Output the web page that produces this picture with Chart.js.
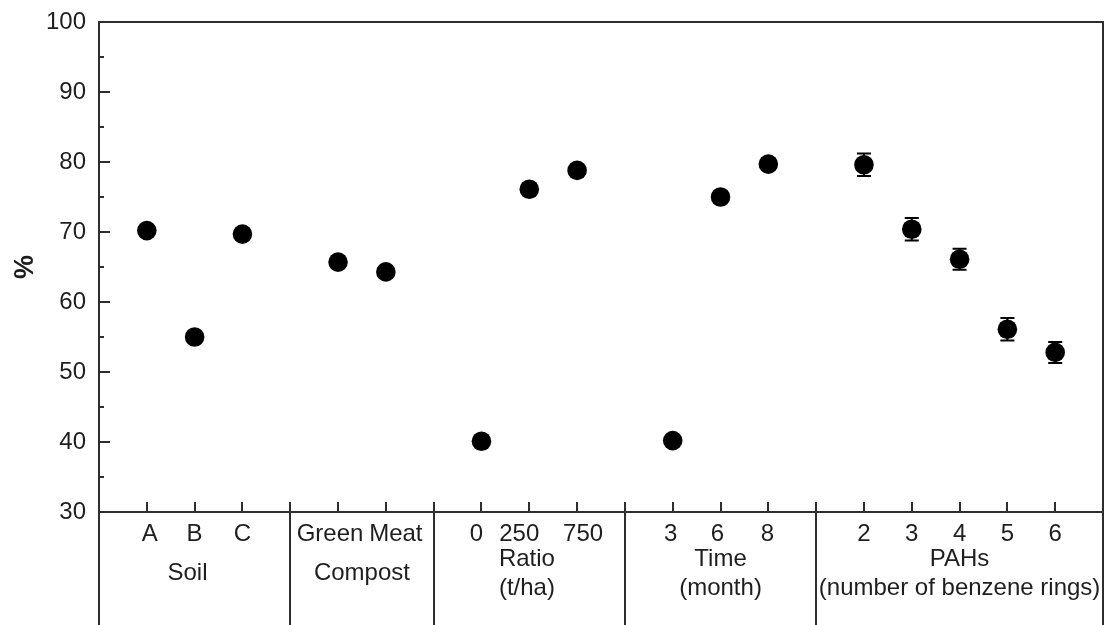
<!DOCTYPE html>
<html>
<head>
<meta charset="utf-8">
<script src="https://cdn.jsdelivr.net/npm/chart.js@4/dist/chart.umd.min.js"></script>
<style>
  html, body { margin: 0; padding: 0; background: #fff; }
  #wrap { width: 1115px; height: 625px; position: relative; }
</style>
</head>
<body>
<div id="wrap"><canvas id="chart"></canvas></div>
<script>
// Treatment levels along the x axis, grouped by factor
const categories = ['A', 'B', 'C', 'Green', 'Meat', '0', '250', '750', '3', '6', '8', '2', '3', '4', '5', '6'];
const positions  = [1, 2, 3, 5, 6, 8, 9, 10, 12, 13, 14, 16, 17, 18, 19, 20];
// Mean percentage and its standard error for each level
const values = [70.2, 55.0, 69.7, 65.7, 64.3, 40.1, 76.1, 78.8, 40.2, 75.0, 79.7, 79.6, 70.4, 66.1, 56.1, 52.8];
const errors = [0.6, 0.6, 0.6, 0.6, 0.6, 0.6, 0.8, 0.8, 0.6, 0.8, 0.8, 1.6, 1.6, 1.5, 1.6, 1.5];
// Factor groups: name lines, span boundaries and label centre on the x scale
const groupNames   = [['Soil'], ['Compost'], ['Ratio', '(t/ha)'], ['Time', '(month)'], ['PAHs', '(number of benzene rings)']];
const groupBounds  = [4, 7, 11, 15];
const groupCenters = [1.85, 5.5, 8.95, 13, 18];
const yTicks = [30, 40, 50, 60, 70, 80, 90, 100];

// Small horizontal nudges (px) so neighbouring level labels do not collide
const labelNudge = { 0: 3, 3: -8, 4: 10, 5: -5, 6: -10, 7: 6, 8: -2, 9: -3, 10: -1 };

const FONT = "'Liberation Sans', Arial, sans-serif";
const TEXT = '#1e1e1e';
const AXIS = '#2e2e2e';

const errorBars = {
  id: 'errorBars',
  beforeDatasetsDraw(chart) {
    const { ctx, scales: { x, y } } = chart;
    ctx.save();
    ctx.strokeStyle = '#000';
    ctx.lineWidth = 2;
    positions.forEach((p, i) => {
      const px = x.getPixelForValue(p);
      const top = y.getPixelForValue(values[i] + errors[i]);
      const bot = y.getPixelForValue(values[i] - errors[i]);
      ctx.beginPath();
      ctx.moveTo(px, top); ctx.lineTo(px, bot);
      ctx.moveTo(px - 7, top); ctx.lineTo(px + 7, top);
      ctx.moveTo(px - 7, bot); ctx.lineTo(px + 7, bot);
      ctx.stroke();
    });
    ctx.restore();
  }
};

const frame = {
  id: 'frame',
  afterDraw(chart) {
    const { ctx, chartArea: a, scales: { x, y } } = chart;
    const bottomEdge = chart.height;
    ctx.save();
    ctx.strokeStyle = AXIS;
    ctx.lineWidth = 2;
    ctx.lineCap = 'butt';
    ctx.beginPath();
    // box and extended side rails
    ctx.moveTo(a.left, a.top); ctx.lineTo(a.right, a.top);
    ctx.moveTo(a.left, a.top - 1); ctx.lineTo(a.left, bottomEdge);
    ctx.moveTo(a.right, a.top - 1); ctx.lineTo(a.right, bottomEdge);
    ctx.moveTo(a.left, a.bottom); ctx.lineTo(a.right, a.bottom);
    // group separators below the axis
    groupBounds.forEach(b => {
      const px = Math.round(x.getPixelForValue(b));
      ctx.moveTo(px, a.bottom); ctx.lineTo(px, bottomEdge);
    });
    // inward x ticks at every integer position
    for (let v = 1; v <= 20; v++) {
      const px = Math.round(x.getPixelForValue(v));
      ctx.moveTo(px, a.bottom); ctx.lineTo(px, a.bottom - 10);
    }
    // inward y ticks, major and minor
    for (let v = 30; v <= 100; v += 5) {
      const py = Math.round(y.getPixelForValue(v));
      const len = v % 10 === 0 ? 11 : 5;
      ctx.moveTo(a.left, py); ctx.lineTo(a.left + len, py);
    }
    ctx.stroke();

    // level labels and factor names
    ctx.fillStyle = TEXT;
    ctx.font = '24px ' + FONT;
    ctx.textAlign = 'center';
    ctx.textBaseline = 'alphabetic';
    categories.forEach((c, i) => {
      const px = x.getPixelForValue(positions[i]) + (labelNudge[i] || 0);
      ctx.fillText(c, px, 541);
    });
    groupNames.forEach((lines, i) => {
      const px = x.getPixelForValue(groupCenters[i]);
      if (lines.length === 1) {
        ctx.fillText(lines[0], px, 580);
      } else {
        ctx.fillText(lines[0], px, 566);
        ctx.fillText(lines[1], px, 595);
      }
    });
    ctx.restore();
  }
};

new Chart(document.getElementById('chart'), {
  type: 'scatter',
  data: {
    datasets: [{
      data: positions.map((p, i) => ({ x: p, y: values[i] })),
      backgroundColor: '#000',
      borderColor: '#000',
      borderWidth: 0,
      pointRadius: 9.8,
      pointHoverRadius: 9.8
    }]
  },
  options: {
    responsive: true,
    maintainAspectRatio: false,
    animation: false,
    layout: { padding: { top: 22, right: 12, left: 0, bottom: 0 } },
    plugins: { legend: { display: false }, tooltip: { enabled: false } },
    scales: {
      x: {
        type: 'linear',
        min: 0,
        max: 21,
        grid: { display: false },
        border: { display: false },
        ticks: { display: false },
        afterFit(s) { s.height = 113; }
      },
      y: {
        type: 'linear',
        min: 30,
        max: 100,
        afterBuildTicks(s) { s.ticks = yTicks.map(v => ({ value: v })); },
        grid: { display: false },
        border: { display: false },
        ticks: {
          padding: 5,
          color: TEXT,
          font: { family: FONT, size: 24 }
        },
        title: {
          display: true,
          text: '%',
          color: TEXT,
          font: { family: FONT, size: 27, weight: 'bold' },
          padding: { top: 9, bottom: 0 }
        },
        afterFit(s) { s.width = 99; }
      }
    }
  },
  plugins: [errorBars, frame]
});
</script>
</body>
</html>
